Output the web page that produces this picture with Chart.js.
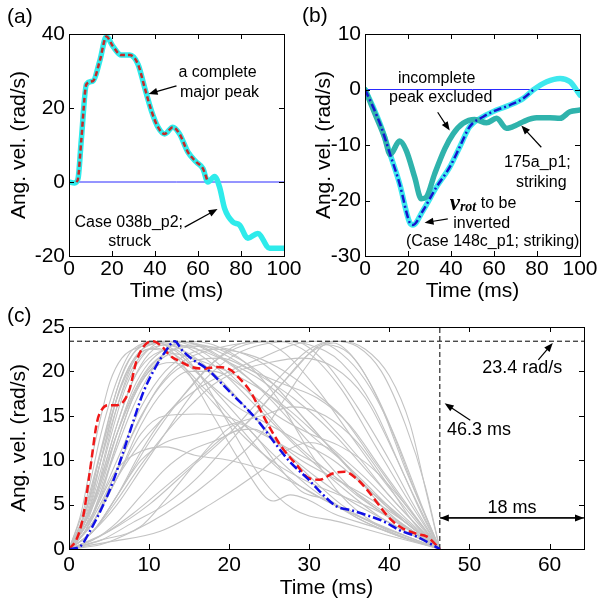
<!DOCTYPE html>
<html>
<head>
<meta charset="utf-8">
<script src="https://cdn.jsdelivr.net/npm/chart.js@4.4.1/dist/chart.umd.min.js"></script>
<style>
  html, body { margin: 0; padding: 0; background: #fff; }
  body { width: 608px; height: 609px; position: relative; overflow: hidden; }
  canvas { position: absolute; }
  #chartA { left: 0; top: 0; }
  #chartB { left: 296px; top: 0; }
  #chartC { left: 0; top: 305px; }
</style>
</head>
<body>
<canvas id="chartA" width="304" height="305"></canvas>
<canvas id="chartB" width="312" height="305"></canvas>
<canvas id="chartC" width="608" height="304"></canvas>
<script>
// ---- panel (a): case 038b_p2, struck ----
const struckTime = [0, 2.6, 4.2, 5.7, 8.1, 11.2, 14.3, 17.4, 20.4, 24.3, 28.2, 32.1, 35.2, 38.3, 41.4, 44.5, 48.3, 51.4, 55.3, 59.2, 62.3, 64.6, 67.7, 70, 72.4, 76.2, 79.3, 83.2, 87.8, 93.3, 97.9, 100];
const struckVel = [0, -0.3, 0.9, 11.2, 26.4, 27.3, 32.7, 39.3, 36.7, 34.3, 34.3, 31.8, 25.5, 19.3, 14.8, 13, 14.8, 13, 8.1, 5.4, 3.6, 0, 1.5, -1.3, -7.2, -10.8, -11.6, -15.2, -13.9, -17.9, -17.9, -17.9];
const majorPeakTime = [3.4, 4.2, 5.7, 8.1, 11.2, 14.3, 17.4, 20.4, 24.3, 28.2, 32.1, 35.2, 38.3, 41.4, 44.5, 48.3, 51.4, 55.3, 59.2, 62.3, 64.6];
const majorPeakVel = [0, 0.9, 11.2, 26.4, 27.3, 32.7, 39.3, 36.7, 34.3, 34.3, 31.8, 25.5, 19.3, 14.8, 13, 14.8, 13, 8.1, 5.4, 3.6, 0];

// ---- panel (b): 148c_p1 and 175a_p1, striking ----
const case148Time = [0, 3.7, 7.5, 11.7, 16.1, 20.7, 22.3, 27, 33.2, 39.4, 44, 48.7, 55, 61.2, 67.4, 73.6, 78.2, 84.5, 90.7, 95.3, 100];
const case148Vel = [0, -3.1, -6.7, -11.7, -17, -23.9, -24.4, -21.8, -17.6, -14, -10.4, -6.7, -4.9, -3.7, -2.8, -1.6, -0.1, 1.4, 2, 1.4, -1];
const invertTime = [0, 3.7, 7.5, 11.7, 16.1, 20.7, 22.3, 27, 33.2, 39.4, 44, 48.7, 55, 61.2, 67.4, 73.6, 78.2];
const invertVel = [0, -3.1, -6.7, -11.7, -17, -23.9, -24.4, -21.8, -17.6, -14, -10.4, -6.7, -4.9, -3.7, -2.8, -1.6, -0.1];
const case175Time = [0, 5.2, 9.1, 11.7, 16.1, 19.2, 23.1, 26.2, 28.5, 32.4, 37.1, 41, 45.6, 51, 56.5, 61.2, 65.8, 70.5, 73.6, 79.8, 86, 90.7, 95.3, 100];
const case175Vel = [0, -4.9, -8.6, -11.7, -9.3, -11, -15.8, -19.7, -19.4, -15.2, -10.7, -8, -6.1, -5.4, -6, -5.2, -7, -6.4, -5.8, -5.1, -5.1, -5.2, -4, -3.7];

// ---- panel (c): normalised peaks ----
const redTime = [0, 1, 1.8, 2.6, 3.5, 4.1, 4.9, 6, 6.8, 7.6, 8.4, 9.5, 10.5, 11.6, 12.6, 13.9, 15.3, 16.8, 18.4, 20.1, 21.3, 22.6, 23.8, 25.1, 26.7, 28.4, 29.9, 31.3, 32.9, 34.4, 35.8, 37.1, 38.4, 40.1, 41.7, 43.4, 44.7, 46.3];
const redVel = [0, 1.2, 3.8, 8.7, 14.3, 15.7, 16.2, 16.2, 16.6, 18.1, 21.1, 23, 23.4, 22.8, 21.8, 21.1, 20.5, 20.3, 20.5, 20.2, 19.2, 17.8, 15.8, 13.6, 11.3, 9.5, 8, 7.8, 8.5, 8.7, 8, 6.8, 5.3, 3.4, 2.3, 1.7, 1.4, 0];
const blueTime = [0, 1.4, 2.6, 4.3, 5.5, 6.8, 8, 9.3, 10.7, 12, 13.2, 14.1, 15.5, 17.2, 18.9, 20.5, 22.2, 23.8, 25.9, 27.6, 29.7, 31.3, 33.4, 35.1, 37.2, 39.3, 41.3, 43.4, 46.3];
const blueVel = [0, 0.3, 2, 5, 7.6, 11, 14.3, 17.7, 20.3, 22.2, 23.4, 22.4, 21.3, 20.3, 18.8, 17.3, 15.8, 14.2, 11.7, 9.8, 8, 6.5, 4.8, 4.4, 3.8, 3.1, 2.1, 1.4, 0];
const grayCurves = [
    [[0, 0], [1.5, 4], [2.8, 10], [4, 15], [5.1, 18.8], [6.6, 21.5], [9, 22.8], [12, 23.2], [16, 21], [22, 16], [28, 10], [34, 5], [40, 2], [46.3, 0]],
    [[0, 0], [2, 4], [4, 11], [6, 18], [8, 22], [10, 23.4], [13, 22.5], [18, 18], [24, 12], [30, 7], [36, 3.5], [42, 1.2], [46.3, 0]],
    [[0, 0], [2, 3], [4, 9], [6, 16], [8, 21], [10, 23], [13, 23.4], [17, 22], [22, 18], [27, 13], [32, 9], [38, 5], [43, 2], [46.3, 0]],
    [[0, 0], [2, 5], [4, 13], [6, 19], [8, 22.5], [11, 23.3], [14, 21], [18, 15], [22, 9], [25.5, 5.4], [27.6, 6.1], [29.7, 5.6], [33, 4], [38, 2.5], [42, 1.2], [46.3, 0]],
    [[0, 0], [2, 3], [4, 8], [6, 14], [8, 19], [10, 21.5], [13, 22.5], [16, 20], [20, 14], [24, 8], [28, 4.5], [34, 3], [40, 1.5], [46.3, 0]],
    [[0, 0], [3, 5], [5, 12], [7, 18], [9, 21.5], [12, 23.4], [16, 23], [20, 21], [25, 17], [30, 12], [35, 7], [40, 3.5], [46.3, 0]],
    [[0, 0], [3, 4], [6, 12], [8, 17], [10, 20], [13, 22], [17, 21], [22, 19], [27, 16], [32, 12], [37, 8], [42, 3.5], [46.3, 0]],
    [[0, 0], [2, 2], [5, 9], [8, 16], [11, 21], [14, 23.4], [18, 22.5], [23, 20], [28, 17], [33, 13], [38, 8], [42, 4], [46.3, 0]],
    [[0, 0], [3, 5], [6, 13], [9, 19], [12, 22], [16, 23], [20, 22], [25, 19], [30, 14], [35, 9], [40, 4.5], [46.3, 0]],
    [[0, 0], [3, 3], [6, 8], [9, 13], [12, 15], [16, 15.2], [20, 14.8], [24, 13], [28, 11], [32, 9], [36, 6], [41, 3], [46.3, 0]],
    [[0, 0], [3, 2], [6, 6], [9, 10], [12, 12], [16, 13], [20, 14], [24, 15], [28, 16], [32, 15], [36, 12], [40, 7], [43, 3], [46.3, 0]],
    [[0, 0], [3, 4], [6, 9], [9, 11], [12, 11.5], [16, 10.5], [20, 10], [24, 9], [28, 7.5], [33, 5], [39, 2.5], [46.3, 0]],
    [[0, 0], [4, 1], [8, 3], [12, 5], [16, 8], [20, 12], [24, 16], [28, 20], [31, 22.8], [34, 23.4], [37, 22.5], [40, 19.5], [42.6, 14], [44.6, 6.4], [46.3, 0]],
    [[0, 0], [4, 0.5], [8, 2], [12, 4], [16, 6.5], [20, 9.5], [24, 13], [27, 17], [30, 21], [32, 23], [35, 22], [38, 18], [41, 12], [44, 5], [46.3, 0]],
    [[0, 0], [3, 1], [6, 3], [9, 6], [12, 9], [15, 11], [19, 12.5], [22, 14], [26, 18], [30, 22], [33, 23.2], [36, 21], [39, 16], [42, 9], [46.3, 0]],
    [[0, 0], [3, 2], [6, 6], [9, 11], [12, 15], [16, 18], [20, 20], [24, 21.5], [28, 23], [31, 23.4], [34, 22], [37, 19], [40, 14], [43, 7], [46.3, 0]],
    [[0, 0], [2, 2], [5, 7], [8, 13], [11, 18], [14, 21], [18, 22.5], [22, 23.2], [26, 23.4], [30, 22], [34, 18], [38, 12], [42, 6], [46.3, 0]],
    [[0, 0], [4, 1], [8.9, 2.5], [12, 5.5], [15.1, 8.9], [18, 12], [21.3, 14.1], [23, 13], [26, 9.5], [29, 6.5], [32.5, 5.5], [36, 3.5], [41, 1.5], [46.3, 0]],
    [[0, 0], [4, 1.5], [8, 4], [12, 7], [16, 10], [20, 13], [23, 13.5], [26, 12], [29, 10], [33, 8], [37, 6], [42, 3], [46.3, 0]],
    [[0, 0], [5, 2], [10, 5], [15, 9], [20, 13], [24, 17], [27, 20], [30, 22.5], [33, 23.4], [36, 22.8], [39, 20], [42, 14], [44.5, 7], [46.3, 0]],
    [[0, 0], [3, 3], [6, 9], [9, 15], [12, 19], [15, 21], [19, 21.5], [23, 20], [27, 18.5], [31, 17], [35, 14], [39, 9], [43, 4], [46.3, 0]],
    [[0, 0], [2, 3], [4, 8], [6, 14], [8, 19], [10, 22], [12, 23], [15, 22], [19, 19], [23, 15], [27, 11], [31, 8], [35, 5.5], [40, 3], [46.3, 0]],
    [[0, 0], [2, 4], [4, 10], [6, 16], [8, 20.5], [10, 22.5], [13, 23], [16, 22.5], [20, 21], [24, 19], [28, 16], [32, 12], [36, 8], [40, 4.5], [46.3, 0]],
    [[0, 0], [3, 3], [6, 8], [9, 12], [12, 15], [15, 18], [18, 21], [21, 23], [24, 23.4], [27, 22], [31, 18], [35, 13], [39, 8], [43, 3.5], [46.3, 0]],
    [[0, 0], [3, 2], [6, 5], [9, 9], [12, 13], [15, 17], [18, 20], [21, 22], [24, 23], [28, 23.4], [32, 21], [36, 16], [40, 10], [43, 5], [46.3, 0]],
    [[0, 0], [2, 3], [4, 7], [6, 13], [8, 18], [10, 21], [12, 22.5], [15, 23.4], [18, 23], [22, 21], [26, 17], [30, 11], [34, 6], [38, 3], [42, 1.5], [46.3, 0]],
    [[0, 0], [3, 4], [6, 10], [9, 16], [12, 20], [15, 22], [18, 22.5], [22, 22], [26, 20.5], [30, 18], [34, 15], [38, 10], [42, 5], [46.3, 0]],
    [[0, 0], [5, 0.8], [11.4, 2], [17.6, 5], [23.8, 8.7], [27, 11], [30, 12], [33, 11], [36, 8], [40, 4], [46.3, 0]],
    [[0, 0], [3, 2], [6, 6], [10, 12], [14, 17], [18, 21], [22, 23], [26, 23.4], [30, 23], [34, 21], [38, 16], [42, 8], [46.3, 0]],
    [[0, 0], [2, 4], [4, 11], [6, 17], [8, 21], [10, 22.5], [13, 22], [17, 19], [21, 16], [25, 14], [29, 12], [33, 10], [37, 7], [41, 4], [46.3, 0]],
    [[0, 0], [3, 3], [6, 8], [9, 14], [12, 18], [15, 20], [18, 20], [22, 18], [26, 15], [30, 13], [34, 11.5], [38, 9], [42, 5], [46.3, 0]],
    [[0, 0], [2, 2], [4, 6], [6, 12], [8, 17], [10, 20], [13, 21], [17, 18], [21, 14], [25, 10], [29, 7], [33, 5], [38, 3], [42, 1.5], [46.3, 0]],
    [[0, 0], [2, 3.5], [4, 10], [6, 17], [7.5, 20.5], [9, 22.4], [11, 23.2], [14, 23.4], [18, 22], [22, 19.5], [26, 16.5], [30, 13], [34, 10], [38, 6.5], [42, 3], [46.3, 0]],
    [[0, 0], [2, 2.5], [4, 7.5], [6, 13], [8, 17.5], [10, 20.5], [12, 22], [16, 22.8], [20, 22.5], [24, 21], [28, 18], [32, 14.5], [36, 10.5], [40, 6], [46.3, 0]],
    [[0, 0], [2.5, 4.5], [4.5, 12], [6.5, 18.5], [8.5, 21.8], [11, 22.6], [14, 20.5], [18, 16.5], [22, 12.5], [26, 9.5], [30, 7.5], [34, 6], [38, 4.5], [42, 2.5], [46.3, 0]],
    [[0, 0], [3, 2], [6, 5.5], [9, 9.5], [12, 13], [15, 16], [18, 18.5], [21, 20], [25, 21], [29, 21.5], [33, 20.5], [37, 17], [41, 10], [44, 4], [46.3, 0]],
    [[0, 0], [1.5, 3], [3.5, 9.5], [5.5, 16.5], [7, 20.5], [9, 22.8], [12, 23.4], [15, 22.6], [19, 20], [24, 15.5], [29, 11], [34, 7], [39, 3.5], [46.3, 0]],
];
const peakLevel = 23.4;   // rad/s
const peakDuration = 46.3; // ms
const paddedEnd = 64.3;    // 46.3 + 18 ms

const FONT = '"Liberation Sans", Arial, Helvetica, sans-serif';
const SERIF = '"Liberation Serif", "Times New Roman", serif';

const toPoints = (ts, vs) => ts.map((t, i) => ({ x: t, y: vs[i] }));

const line = (data, color, width, dash, extra = {}) => ({
    data,
    showLine: true,
    borderColor: color,
    borderWidth: width,
    borderDash: dash || [],
    pointRadius: 0,
    fill: false,
    cubicInterpolationMode: 'monotone',
    borderJoinStyle: 'round',
    borderCapStyle: dash ? 'butt' : 'round',
    ...extra,
});

// inward MATLAB-style ticks and box
const boxPlugin = {
    id: 'matlabBox',
    afterDatasetsDraw(chart, args, opts) {
        const { ctx, chartArea: a, scales: { x, y } } = chart;
        const len = opts.tick || 5;
        ctx.save();
        ctx.strokeStyle = '#000';
        ctx.lineWidth = 1;
        ctx.beginPath();
        x.ticks.forEach((tk) => {
            const px = Math.round(x.getPixelForValue(tk.value)) + 0.5;
            ctx.moveTo(px, a.bottom);
            ctx.lineTo(px, a.bottom - len);
            ctx.moveTo(px, a.top);
            ctx.lineTo(px, a.top + len);
        });
        y.ticks.forEach((tk) => {
            const py = Math.round(y.getPixelForValue(tk.value)) + 0.5;
            ctx.moveTo(a.left, py);
            ctx.lineTo(a.left + len, py);
            ctx.moveTo(a.right, py);
            ctx.lineTo(a.right - len, py);
        });
        ctx.stroke();
        ctx.strokeRect(Math.round(a.left) + 0.5, Math.round(a.top) + 0.5,
            Math.round(a.right - a.left), Math.round(a.bottom - a.top));
        ctx.restore();
    },
};

const drawArrow = (ctx, x1, y1, x2, y2) => {
    const ang = Math.atan2(y2 - y1, x2 - x1);
    const hl = 9, hw = 3.5;
    ctx.beginPath();
    ctx.moveTo(x1, y1);
    ctx.lineTo(x2 - Math.cos(ang) * hl * 0.8, y2 - Math.sin(ang) * hl * 0.8);
    ctx.stroke();
    ctx.beginPath();
    ctx.moveTo(x2, y2);
    ctx.lineTo(x2 - Math.cos(ang) * hl - Math.sin(ang) * hw, y2 - Math.sin(ang) * hl + Math.cos(ang) * hw);
    ctx.lineTo(x2 - Math.cos(ang) * hl + Math.sin(ang) * hw, y2 - Math.sin(ang) * hl - Math.cos(ang) * hw);
    ctx.closePath();
    ctx.fill();
};

// text notes and arrows, positioned in data units
const notesPlugin = {
    id: 'notes',
    afterDraw(chart, args, opts) {
        const { ctx, scales: { x, y } } = chart;
        ctx.save();
        ctx.fillStyle = '#000';
        ctx.strokeStyle = '#000';
        ctx.lineWidth = 1.2;
        ctx.textBaseline = 'middle';
        (opts.texts || []).forEach((n) => {
            ctx.font = n.font || opts.font;
            ctx.textAlign = n.align || 'center';
            ctx.fillText(n.text, x.getPixelForValue(n.t), y.getPixelForValue(n.v));
        });
        (opts.rich || []).forEach((r) => {
            let px = x.getPixelForValue(r.t);
            const py = y.getPixelForValue(r.v);
            ctx.textAlign = 'left';
            r.parts.forEach((p) => {
                ctx.font = p.font;
                ctx.fillText(p.s, px, py + (p.dy || 0));
                px += ctx.measureText(p.s).width;
            });
        });
        (opts.arrows || []).forEach((ar) => {
            const x1 = x.getPixelForValue(ar.from[0]), y1 = y.getPixelForValue(ar.from[1]);
            const x2 = x.getPixelForValue(ar.to[0]), y2 = y.getPixelForValue(ar.to[1]);
            drawArrow(ctx, x1, y1, x2, y2);
            if (ar.both) drawArrow(ctx, x2, y2, x1, y1);
        });
        if (opts.label) {
            ctx.font = `21px ${FONT}`;
            ctx.textAlign = 'left';
            ctx.fillText(opts.label.text, opts.label.x, opts.label.y);
        }
        ctx.restore();
    },
};

const axes = (cfg) => ({
    x: {
        type: 'linear',
        min: cfg.xMin,
        max: cfg.xMax,
        grid: { display: false, drawTicks: false },
        border: { display: false },
        ticks: {
            stepSize: cfg.xStep,
            includeBounds: false,
            color: '#000',
            font: { family: FONT, size: 21 },
            padding: cfg.xPad,
            maxRotation: 0,
        },
        title: {
            display: true,
            text: 'Time (ms)',
            color: '#000',
            font: { family: FONT, size: 21 },
            padding: { top: 0, bottom: cfg.xTitlePad },
        },
        afterFit: (s) => { s.height = cfg.xHeight; },
    },
    y: {
        type: 'linear',
        min: cfg.yMin,
        max: cfg.yMax,
        grid: { display: false, drawTicks: false },
        border: { display: false },
        ticks: {
            stepSize: cfg.yStep,
            color: '#000',
            font: { family: FONT, size: 21 },
            padding: 4,
        },
        title: {
            display: true,
            text: 'Ang. vel. (rad/s)',
            color: '#000',
            font: { family: FONT, size: 21 },
            padding: { top: cfg.yTitlePad, bottom: 0 },
        },
        afterFit: (s) => { s.width = cfg.yWidth; },
    },
});

const baseOptions = (cfg, notes, tick) => ({
    responsive: false,
    animation: false,
    events: [],
    layout: { padding: cfg.padding },
    scales: axes(cfg),
    plugins: {
        legend: { display: false },
        tooltip: { enabled: false },
        matlabBox: { tick },
        notes,
    },
});

// ---- (a) ----
new Chart(document.getElementById('chartA'), {
    type: 'scatter',
    data: {
        datasets: [
            line(toPoints(majorPeakTime, majorPeakVel), '#C42A2A', 2.5, [5, 3]),
            line(toPoints(struckTime, struckVel), '#2EEBEB', 5.5),
            line(toPoints([0, 100], [0, 0]), '#2A2AFF', 1),
        ],
    },
    options: baseOptions({
        xMin: 0, xMax: 100, xStep: 20, yMin: -20, yMax: 40, yStep: 20,
        xHeight: 49, yWidth: 69, xPad: 1, xTitlePad: 1, yTitlePad: 7,
        padding: { top: 34, right: 20, left: 0, bottom: 0 },
    }, {
        font: `16px ${FONT}`,
        texts: [
            { text: 'a complete', t: 69.1, v: 29.5 },
            { text: 'major peak', t: 70, v: 24.1 },
            { text: 'Case 038b_p2;', t: 27.8, v: -11.1 },
            { text: 'struck', t: 28.2, v: -16.2 },
        ],
        arrows: [
            { from: [50, 26], to: [37, 23.8] },
            { from: [53.8, -12.2], to: [69.1, -7.3] },
        ],
        label: { text: '(a)', x: 7, y: 17 },
    }, 5),
    plugins: [boxPlugin, notesPlugin],
});

// ---- (b) ----
new Chart(document.getElementById('chartB'), {
    type: 'scatter',
    data: {
        datasets: [
            line(toPoints(invertTime, invertVel), '#1515CF', 2.5, [8, 3, 2, 3]),
            line(toPoints(case175Time, case175Vel), '#2FB3AC', 5.5),
            line(toPoints(case148Time, case148Vel), '#3EE8EE', 5.5),
            line(toPoints([0, 100], [0, 0]), '#2A2AFF', 1),
        ],
    },
    options: baseOptions({
        xMin: 0, xMax: 100, xStep: 20, yMin: -30, yMax: 10, yStep: 10,
        xHeight: 49, yWidth: 69, xPad: 1, xTitlePad: 1, yTitlePad: 16,
        padding: { top: 34, right: 28, left: 0, bottom: 0 },
    }, {
        font: `16px ${FONT}`,
        texts: [
            { text: 'incomplete', t: 33.3, v: 2.0 },
            { text: 'peak excluded', t: 35.2, v: -1.4 },
            { text: '175a_p1;', t: 80.2, v: -13.1 },
            { text: 'striking', t: 82, v: -16.8 },
            { text: 'inverted', t: 54.3, v: -24.2 },
            { text: '(Case 148c_p1; striking)', t: 59.4, v: -27.4 },
        ],
        rich: [
            {
                t: 39.4, v: -20.6,
                parts: [
                    { s: 'v', font: `bold italic 23px ${SERIF}` },
                    { s: 'rot', font: `bold italic 14px ${SERIF}`, dy: 4 },
                    { s: ' to be', font: `16px ${FONT}` },
                ],
            },
        ],
        arrows: [
            { from: [33.8, -4.1], to: [39.4, -7.4] },
            { from: [82, -10.4], to: [72.7, -6.5] },
            { from: [38.5, -23.3], to: [27.7, -24] },
        ],
        label: { text: '(b)', x: 6, y: 16 },
    }, 5),
    plugins: [boxPlugin, notesPlugin],
});

// ---- (c) ----
const grayDatasets = grayCurves.map((c) =>
    line(c.map(([t, v]) => ({ x: t, y: v })), '#C3C3C3', 1.1));

new Chart(document.getElementById('chartC'), {
    type: 'scatter',
    data: {
        datasets: [
            line(toPoints(blueTime, blueVel), '#1010E6', 2.5, [9, 3, 2, 3]),
            line(toPoints(redTime, redVel), '#F01818', 2.5, [8, 4]),
            line(toPoints([0, paddedEnd], [peakLevel, peakLevel]), '#000', 1, [5, 3], { cubicInterpolationMode: 'default' }),
            line(toPoints([peakDuration, peakDuration], [0, 25]), '#000', 1, [5, 3], { cubicInterpolationMode: 'default' }),
            ...grayDatasets,
        ],
    },
    options: baseOptions({
        xMin: 0, xMax: paddedEnd, xStep: 10, yMin: 0, yMax: 25, yStep: 5,
        xHeight: 60, yWidth: 69, xPad: 4, xTitlePad: 8, yTitlePad: 7,
        padding: { top: 22, right: 24, left: 0, bottom: 0 },
    }, {
        font: `18px ${FONT}`,
        texts: [
            { text: '23.4 rad/s', t: 56.6, v: 20.4 },
            { text: '46.3 ms', t: 47.2, v: 13.4, align: 'left' },
            { text: '18 ms', t: 55.3, v: 4.6 },
        ],
        arrows: [
            { from: [58.6, 21.3], to: [60.4, 23.2] },
            { from: [50.1, 14.5], to: [46.9, 16.4] },
            { from: [46.3, 3.5], to: [paddedEnd, 3.5], both: true },
        ],
        label: { text: '(c)', x: 7, y: 11 },
    }, 5),
    plugins: [boxPlugin, notesPlugin],
});
</script>
</body>
</html>
